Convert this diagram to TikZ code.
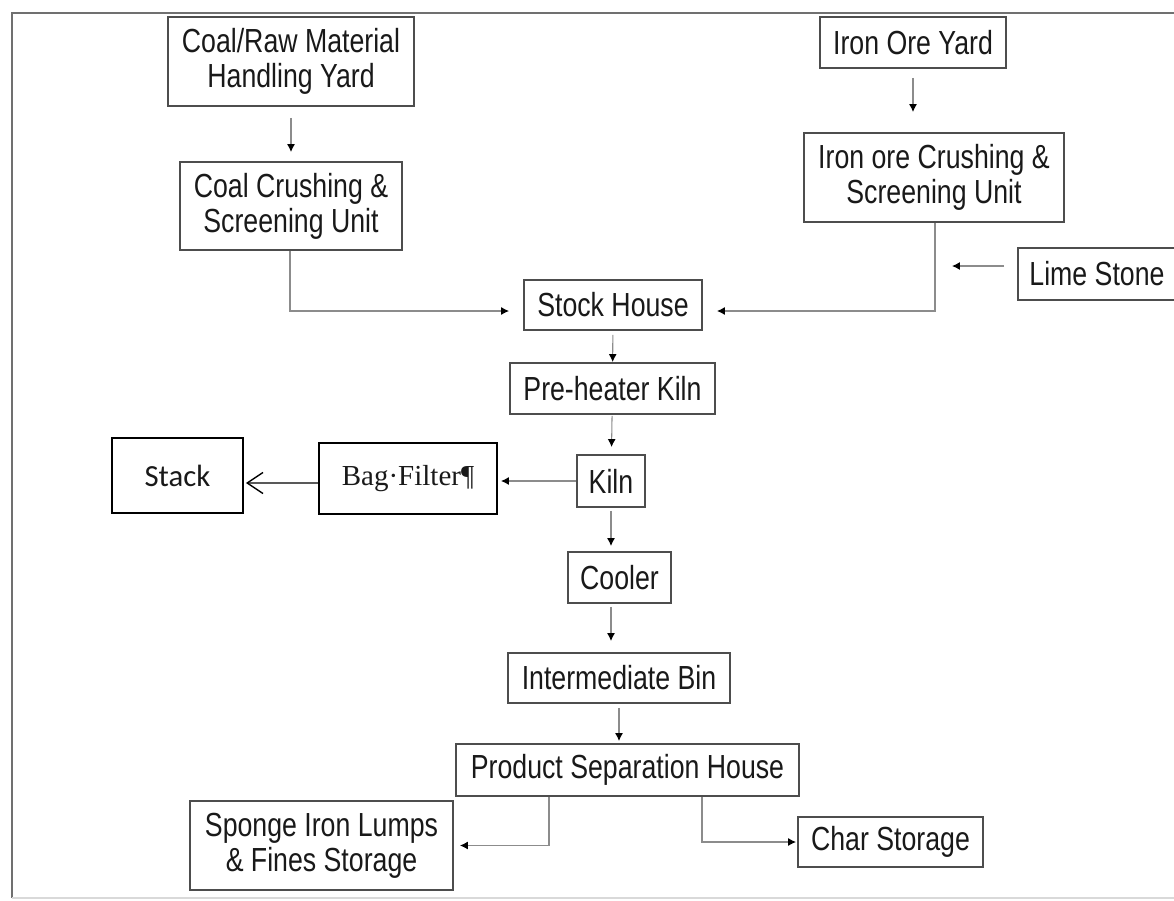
\documentclass[tikz,border=0pt]{standalone}
\usepackage{fontspec}
\setmainfont{Liberation Sans}[FakeStretch=0.8]
\newfontfamily\stackfont{Carlito}
\newfontfamily\bagfont{Liberation Serif}
\usetikzlibrary{arrows.meta,positioning}
\definecolor{boxgray}{HTML}{4D4D4D}
\definecolor{linegray}{HTML}{8C8C8C}
\definecolor{framegray}{HTML}{707070}

\begin{document}
\begin{tikzpicture}[x=0.02cm,y=-0.02cm,
box/.style={draw=boxgray,line width=1.1pt,inner sep=0pt,align=center,text=black!90,font=\fontsize{19}{20}\selectfont},
flow/.style={draw=linegray,line width=0.6pt,-{Latex[length=4.5pt,width=4.5pt,color=black]}},
exhaust/.style={draw=black,line width=0.8pt,-{Straight Barb[length=9pt,width=12pt]}}]
\useasboundingbox(0,0)rectangle(1174,900);
\draw[framegray,line width=1.3pt](1180,13)--(12,13)--(12,898);
\draw[black!15,line width=1pt](12,898)--(1180,898);
\node[box,minimum width=4.92cm,minimum height=1.78cm](cy)at(291,61.5){Coal/Raw Material\\Handling Yard};
\node[box,minimum width=4.44cm,minimum height=1.76cm](cc)at(291,206){Coal Crushing \&\\Screening Unit};
\node[box,minimum width=3.72cm,minimum height=1.02cm](iy)at(913,42.5){Iron Ore Yard};
\node[box,minimum width=5.2cm,minimum height=1.78cm](ic)at(934,177.5){Iron ore Crushing \&\\Screening Unit};
\node[box,minimum width=3.16cm,minimum height=1.04cm](ls)at(1097,274){Lime Stone};
\node[box,minimum width=3.56cm,minimum height=1cm](sh)at(613,305){Stock House};
\node[box,minimum width=4.1cm,minimum height=1.02cm](ph)at(612.5,388.5){Pre-heater Kiln};
\node[box,minimum width=1.36cm,minimum height=1.04cm](kiln)at(611,481){Kiln};
\node[box,draw=black,minimum width=3.56cm,minimum height=1.42cm,font=\bagfont\fontsize{16.5}{20}\selectfont](bf)at(408,478.5){Bag·Filter¶};
\node[box,draw=black,minimum width=2.62cm,minimum height=1.5cm,font=\stackfont\fontsize{17.5}{20}\selectfont](st)at(177.5,475.5){Stack};
\node[box,minimum width=2.06cm,minimum height=1.02cm](co)at(619.5,577.5){Cooler};
\node[box,minimum width=4.44cm,minimum height=1cm](ib)at(619,678){Intermediate Bin};
\node[box,minimum width=6.86cm,minimum height=1.04cm](ps)at(627.5,770){Product Separation House};
\node[box,minimum width=5.26cm,minimum height=1.78cm](sp)at(321.5,845.5){Sponge Iron Lumps\\\& Fines Storage};
\node[box,minimum width=3.7cm,minimum height=1cm](cs)at(890.5,842){Char Storage};
\coordinate(lstip)at(952,266);
\draw[flow,shorten <=0.22cm,shorten >=0.18cm](cy)--(cc);
\draw[flow,shorten <=0.18cm,shorten >=0.4cm](iy.south)--(iy.south|-ic.north);
\draw[flow,shorten >=0.28cm]([xshift=-0.02cm]cc.south)|-([yshift=-0.12cm]sh.west);
\draw[flow,shorten >=0.28cm]([xshift=0.02cm]ic.south)|-([yshift=-0.12cm]sh.east);
\draw[flow,shorten <=0.26cm](ls.west|-lstip)--(lstip);
\draw[flow,shorten <=0.08cm](sh)--(ph);
\draw[flow,shorten <=0.02cm,shorten >=0.14cm](ph)--(kiln);
\draw[flow,shorten >=0.06cm](kiln.west)--(kiln.west-|bf.east);
\draw[exhaust,shorten >=0.04cm]([yshift=-0.09cm]bf.west)--([yshift=-0.15cm]st.east);
\draw[flow,shorten <=0.06cm,shorten >=0.1cm](kiln.south)--(kiln.south|-co.north);
\draw[flow,shorten <=0.06cm,shorten >=0.22cm](co.south-|kiln.south)--(ib.north-|kiln.south);
\draw[flow,shorten <=0.08cm,shorten >=0.04cm](ib.south)--(ib.south|-ps.north);
\draw[flow,shorten >=0.12cm]([xshift=-1.57cm]ps.south)|-(sp.east);
\draw[flow,shorten >=0.02cm]([xshift=1.49cm]ps.south)|-(cs.west);
\end{tikzpicture}
\end{document}
